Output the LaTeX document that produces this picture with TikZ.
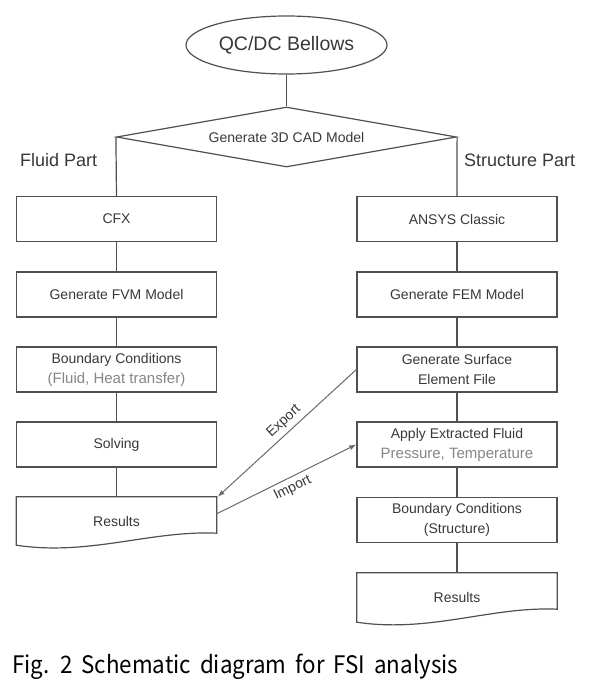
\documentclass[tikz,border=0pt]{standalone}
\usepackage{fontspec}
\setmainfont{Liberation Sans}
\newfontfamily\capfont[WordSpace=1.8]{Noto Sans CJK KR}
\usetikzlibrary{shapes.geometric,arrows.meta,calc}
\definecolor{linec}{HTML}{505050}
\definecolor{textc}{HTML}{383838}
\definecolor{subc}{HTML}{858585}
\definecolor{arrc}{HTML}{6A6A6A}
\tikzset{
  boxline/.style={draw=linec, line width=1.2pt},
  stepbox/.style={boxline, rectangle, minimum width=200pt, minimum height=45pt, inner sep=0pt,
    align=center, text=textc, font=\fontsize{14}{20}\selectfont},
  docbox/.style={rectangle, minimum width=200pt, inner sep=0pt, align=center, text=textc,
    font=\fontsize{14}{20}\selectfont},
  conn/.style={draw=linec, line width=1.2pt},
  xfer/.style={draw=arrc, line width=1pt, -{Latex[length=7pt,width=5pt]}},
  xlabel/.style={text=textc, font=\fontsize{14}{16}\selectfont, inner sep=4pt},
  partlabel/.style={text=textc, font=\fontsize{18}{20}\selectfont, inner sep=0pt}
}
\begin{document}
\begin{tikzpicture}[x=1pt,y=1pt]
\useasboundingbox (0,0) rectangle (596,-682);
% top
\node[boxline, ellipse, minimum width=201pt, minimum height=58pt, inner sep=0pt, text=textc,
  font=\fontsize{19.5}{22}\selectfont] (start) at (286.5,-45) {QC/DC Bellows};
\node[boxline, diamond, aspect=5.67, minimum width=340pt, minimum height=60pt, inner sep=0pt,
  text=textc, font=\fontsize{14}{16}\selectfont] (cad) at (286.5,-137) {Generate 3D CAD Model};
\node[partlabel, anchor=west] (fluidlbl) at (20,-160) {Fluid Part};
\node[partlabel, anchor=west] (structlbl) at (464,-160) {Structure Part};
% left column
\node[stepbox] (cfx) at (116.5,-219) {CFX};
\node[stepbox] (fvm) at (116.5,-294.5) {Generate FVM Model};
\node[stepbox] (bcf) at (116.5,-369.5) {Boundary Conditions\\{\color{subc}\fontsize{15}{20}\selectfont(Fluid, Heat transfer)}};
\node[stepbox] (solve) at (116.5,-444.5) {Solving};
\node[docbox, minimum height=48pt] (resL) at (116.5,-521) {Results};
% right column
\node[stepbox] (ansys) at (457,-219) {ANSYS Classic};
\node[stepbox] (fem) at (457,-294.5) {Generate FEM Model};
\node[stepbox] (surf) at (457,-369.5) {Generate Surface\\Element File};
\node[stepbox] (apply) at (457,-444.5) {Apply Extracted Fluid\\{\color{subc}\fontsize{15}{20}\selectfont Pressure, Temperature}};
\node[stepbox] (bcs) at (457,-520) {Boundary Conditions\\(Structure)};
\node[docbox, minimum height=49pt] (resR) at (457,-597.5) {Results};
% document shapes
\draw[boxline] (resL.north west) -- (resL.north east) -- ($(resL.south east)+(0,12)$)
  .. controls ($(resL.south east)+(-66,15)$) and ($(resL.south west)+(73,-11)$) .. (resL.south west) -- cycle;
\draw[boxline] (resR.north west) -- (resR.north east) -- ($(resR.south east)+(0,13)$)
  .. controls ($(resR.south east)+(-66,16)$) and ($(resR.south west)+(73,-11)$) .. (resR.south west) -- cycle;
% connectors
\draw[conn] (start) -- (cad);
\draw[conn] (cad.west) -- (cfx.north);
\draw[conn] (cad.east) -- (ansys.north);
\draw[conn] (cfx) -- (fvm);
\draw[conn] (fvm) -- (bcf);
\draw[conn] (bcf) -- (solve);
\draw[conn] (solve) -- (resL);
\draw[conn] (ansys) -- (fem);
\draw[conn] (fem) -- (surf);
\draw[conn] (surf) -- (apply);
\draw[conn] (apply) -- (bcs);
\draw[conn] (bcs) -- (resR);
% transfer arrows
\coordinate (impstart) at ($(resL.north east)+(0,-17)$);
\draw[xfer] (surf.west) -- node[xlabel, sloped, above, pos=.47] (explbl) {Export} ($(resL.north east)+(1,0)$);
\draw[xfer] (impstart) -- node[xlabel, sloped, below, pos=.51] (implbl) {Import} (apply.west);
% caption
\node[anchor=base west, inner sep=0pt] (caption) at (12,-673)
  {\resizebox{446pt}{19.5pt}{\capfont Fig. 2 Schematic diagram for FSI analysis}};
\end{tikzpicture}
\end{document}
